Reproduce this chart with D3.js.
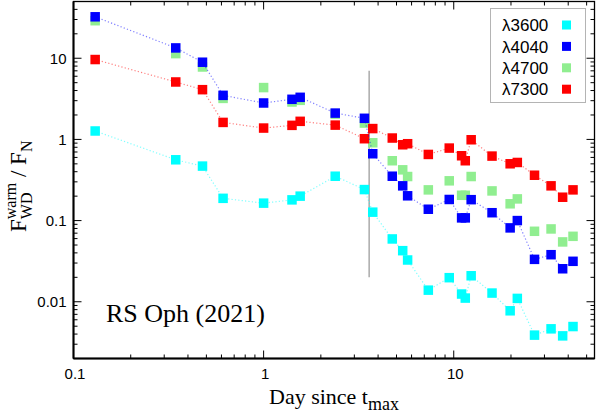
<!DOCTYPE html>
<html>
<head>
<meta charset="utf-8">
<script src="https://cdn.jsdelivr.net/npm/d3@7"></script>
<style>
  body { margin: 0; background: #fff; }
  svg { display: block; }
</style>
</head>
<body>
<div id="chart"></div>
<script>
// days since t_max for every epoch
var days = [0.13, 0.345, 0.477, 0.612, 1.0, 1.41, 1.557, 2.38, 3.39, 3.75, 4.75, 5.39, 5.72,
            7.35, 9.47, 11.0, 11.5, 12.35, 15.9, 19.8, 21.6, 26.6, 32.5, 37.4, 42.4];

// F_WD(warm) / F_N for each band
var f3600 = [1.27, 0.561, 0.469, 0.188, 0.164, 0.180, 0.200, 0.352, 0.241, 0.127, 0.0594, 0.0426, 0.0327,
             0.0139, 0.0198, 0.01245, 0.0111, 0.0209, 0.0128, 0.00774, 0.011, 0.00388, 0.00464, 0.0038, 0.00495];
var f4040 = [32.4, 13.4, 8.93, 3.49, 2.81, 3.12, 3.30, 2.11, 1.82, 0.666, 0.352, 0.268, 0.202,
             0.138, 0.182, 0.108, 0.108, 0.181, 0.125, 0.0813, 0.100, 0.0333, 0.038, 0.0255, 0.0315];
var f4700 = [29.0, 11.4, 7.8, 3.2, 4.35, 2.89, 3.03, 2.05, 1.59, 0.91, 0.546, 0.422, 0.349,
             0.239, 0.309, 0.205, 0.205, 0.349, 0.232, 0.161, 0.185, 0.0738, 0.0789, 0.0546, 0.064];
var f7300 = [9.64, 5.10, 4.10, 1.62, 1.38, 1.49, 1.67, 1.50, 1.02, 1.36, 1.04, 0.859, 0.885,
             0.653, 0.782, 0.629, 0.546, 0.99, 0.623, 0.501, 0.520, 0.362, 0.268, 0.194, 0.239];

var bandNames = ["λ3600", "λ4040", "λ4700", "λ7300"];
var xTickLabels = [0.1, 1, 10];
var yTickLabels = [0.01, 0.1, 1, 10];

// vertical marker
var markDay = 3.59;
var markRange = [0.02, 7];

var width = 598,
    height = 415,
    margin = {left: 73.5, right: 3.5, top: 1.5, bottom: 56.5};

var svg = d3.select("#chart").append("svg")
    .attr("width", width)
    .attr("height", height);

var x = d3.scaleLog()
    .domain([0.1, 55])
    .range([margin.left, width - margin.right]);

var y = d3.scaleLog()
    .domain([0.002, 50])
    .range([height - margin.bottom, margin.top]);

var sans = "'Liberation Sans', Arial, sans-serif",
    serif = "'Liberation Serif', 'Times New Roman', serif";

// minor + major ticks, mirrored on all four sides
function ticksBetween(lo, hi) {
    var out = [];
    for (var e = -4; e <= 3; e++) {
        for (var m = 1; m <= 9; m++) {
            var v = m * Math.pow(10, e);
            if (v >= lo * 0.999 && v <= hi * 1.001) out.push({v: v, major: m == 1});
        }
    }
    return out;
}

var xt = ticksBetween(0.1, 55),
    yt = ticksBetween(0.002, 50);

var ticks = svg.append("g").attr("stroke", "#000").attr("stroke-width", 1);
var x0 = x.range()[0], x1 = x.range()[1], y0 = y.range()[0], y1 = y.range()[1];

xt.forEach(function(d) {
    var len = d.major ? 8 : 4, px = x(d.v);
    ticks.append("line").attr("x1", px).attr("x2", px).attr("y1", y0).attr("y2", y0 - len);
    ticks.append("line").attr("x1", px).attr("x2", px).attr("y1", y1).attr("y2", y1 + len);
});
yt.forEach(function(d) {
    var len = d.major ? 8 : 4, py = y(d.v);
    ticks.append("line").attr("y1", py).attr("y2", py).attr("x1", x0).attr("x2", x0 + len);
    ticks.append("line").attr("y1", py).attr("y2", py).attr("x1", x1).attr("x2", x1 - len);
});

svg.append("rect")
    .attr("x", x0).attr("y", y1)
    .attr("width", x1 - x0).attr("height", y0 - y1)
    .attr("fill", "none").attr("stroke", "#000").attr("stroke-width", 1.3);

// thicker left / bottom axis lines
svg.append("line").attr("x1", x0).attr("x2", x0).attr("y1", y1).attr("y2", y0)
    .attr("stroke", "#000").attr("stroke-width", 2);
svg.append("line").attr("x1", x0).attr("x2", x1).attr("y1", y0).attr("y2", y0)
    .attr("stroke", "#000").attr("stroke-width", 2);

// tick labels
svg.append("g").selectAll("text").data(xTickLabels).enter().append("text")
    .attr("x", function(d) { return x(d) + 1.5; })
    .attr("y", y0 + 20)
    .attr("text-anchor", "middle")
    .attr("font-family", sans).attr("font-size", 15)
    .text(function(d) { return d; });

svg.append("g").selectAll("text").data(yTickLabels).enter().append("text")
    .attr("x", x0 - 7)
    .attr("y", function(d) { return y(d); })
    .attr("dy", "0.36em")
    .attr("text-anchor", "end")
    .attr("font-family", sans).attr("font-size", 15)
    .text(function(d) { return d; });

// vertical grey line
svg.append("line")
    .attr("x1", x(markDay)).attr("x2", x(markDay))
    .attr("y1", y(markRange[0])).attr("y2", y(markRange[1]))
    .attr("stroke", "#aaaaaa").attr("stroke-width", 1.5);

var series = [
    {name: bandNames[2], vals: f4700, color: "#90ee90", line: false},
    {name: bandNames[0], vals: f3600, color: "#00ffff", line: true},
    {name: bandNames[3], vals: f7300, color: "#ff0000", line: true},
    {name: bandNames[1], vals: f4040, color: "#0000ff", line: true}
];

var line = d3.line()
    .x(function(d) { return x(d[0]); })
    .y(function(d) { return y(d[1]); });

var sq = 9.5;
series.forEach(function(s) {
    var pts = days.map(function(t, i) { return [t, s.vals[i]]; });
    if (s.line) {
        svg.append("path")
            .datum(pts)
            .attr("d", line)
            .attr("fill", "none")
            .attr("stroke", s.color)
            .attr("stroke-opacity", 0.5)
            .attr("stroke-width", 1.2)
            .attr("stroke-dasharray", "1.2,2.2");
    }
    svg.append("g").selectAll("rect").data(pts).enter().append("rect")
        .attr("x", function(d) { return x(d[0]) - sq / 2; })
        .attr("y", function(d) { return y(d[1]) - sq / 2; })
        .attr("width", sq).attr("height", sq)
        .attr("fill", s.color);
});

// legend
var legendColors = ["#00ffff", "#0000ff", "#90ee90", "#ff0000"];
var lg = svg.append("g");
lg.append("rect")
    .attr("x", 490.5).attr("y", 8.5).attr("width", 95).attr("height", 94)
    .attr("fill", "#fff").attr("stroke", "#b4b4b4").attr("stroke-width", 1);
bandNames.forEach(function(n, i) {
    var cy = 25 + i * 21.4;
    lg.append("text")
        .attr("x", 502).attr("y", cy).attr("dy", "0.36em")
        .attr("font-family", sans).attr("font-size", 17)
        .text(n);
    lg.append("rect")
        .attr("x", 566.5 - 4.5).attr("y", cy - 4.5)
        .attr("width", 9).attr("height", 9)
        .attr("fill", legendColors[i]);
});

// annotation
svg.append("text")
    .attr("x", 106).attr("y", 322)
    .attr("font-family", serif).attr("font-size", 26)
    .text("RS Oph (2021)");

// x label
var xl = svg.append("text")
    .attr("x", 334).attr("y", 404)
    .attr("text-anchor", "middle")
    .attr("font-family", serif).attr("font-size", 22);
xl.append("tspan").text("Day since t");
xl.append("tspan").attr("dy", 6).attr("font-size", 18).text("max");

// y label, stacked sub/superscript
var yl = svg.append("g")
    .attr("transform", "translate(26,232) rotate(-90)")
    .attr("font-family", serif);
var fA = yl.append("text").attr("x", 0).attr("y", 0).attr("font-size", 23).text("F");
var wF = fA.node().getComputedTextLength();
var sub = yl.append("text").attr("x", wF).attr("y", 6).attr("font-size", 16).text("WD");
var sup = yl.append("text").attr("x", wF).attr("y", -10).attr("font-size", 16).text("warm");
var wS = Math.max(sub.node().getComputedTextLength(), sup.node().getComputedTextLength());
var fB = yl.append("text").attr("x", wF + wS).attr("y", 0).attr("font-size", 23).text("\u00a0/ F");
var wB = fB.node().getComputedTextLength();
yl.append("text").attr("x", wF + wS + wB).attr("y", 6).attr("font-size", 16).text("N");
</script>
</body>
</html>
